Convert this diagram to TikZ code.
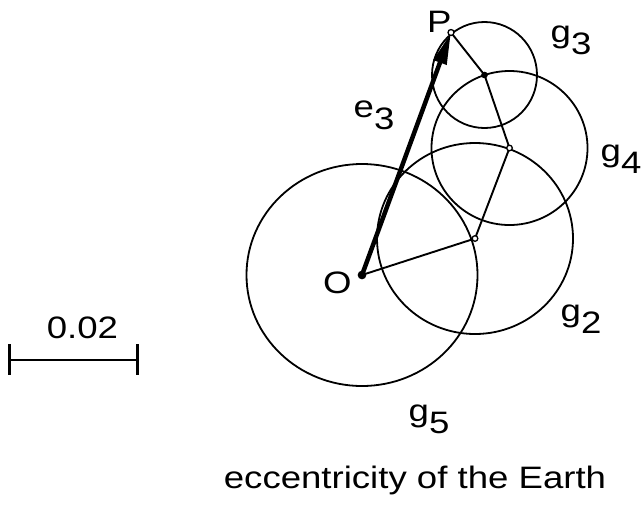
\documentclass[tikz,border=0pt]{standalone}
\usepackage{fontspec}
\setmainfont{Liberation Sans}[FakeStretch=1.18]
\usetikzlibrary{arrows.meta}
\newcommand\lblsub[2]{#1\raisebox{-12pt}{#2}}
\begin{document}
\begin{tikzpicture}[x=1pt,y=-1pt,
  circ/.style={line width=1.8pt},
  link/.style={line width=1.9pt},
  vec/.style={line width=4.5pt,line cap=round,-{Triangle[length=32pt,width=13pt]}},
  lbl/.style={inner sep=0pt,anchor=base west,font=\fontsize{31}{31}\selectfont},
  solid dot/.style={fill=black,draw=black,line width=1pt},
  ring dot/.style={fill=white,draw=black,line width=1.3pt},
  bar/.style={line width=2.5pt},
  tick/.style={line width=3pt}]
\useasboundingbox (0,0) rectangle (642,504);
% points
\coordinate (O) at (362,275);
\coordinate (C) at (475,238.5);
\coordinate (B) at (509.5,148);
\coordinate (A) at (484.5,75);
\coordinate (P) at (451,32.5);
% circles
\draw[circ] (O) ellipse [x radius=115.5, y radius=111];
\draw[circ] (C) ellipse [x radius=98, y radius=95.5];
\draw[circ] (B) ellipse [x radius=78, y radius=77];
\draw[circ] (A) ellipse [x radius=52.5, y radius=53];
% chain
\draw[link] (O) -- (C) -- (B) -- (A) -- (P);
% vector e3
\draw[vec] (O) -- (P);
% dots
\fill[solid dot] (O) circle (3.8);
\draw[solid dot] (A) circle (2.8);
\draw[ring dot] (C) circle (2.8);
\draw[ring dot] (B) circle (2.8);
\draw[ring dot] (P) circle (3);
% labels
\node[lbl] (lP) at (427,32) {P};
\node[lbl] (lO) at (323,293) {O};
\node[lbl] (le3) at (353.5,117) {\lblsub{e}{3}};
\node[lbl] (lg3) at (550.5,42) {\lblsub{g}{3}};
\node[lbl] (lg4) at (600.5,161) {\lblsub{g}{4}};
\node[lbl] (lg2) at (560.5,321) {\lblsub{g}{2}};
\node[lbl] (lg5) at (408.5,421) {\lblsub{g}{5}};
\node[lbl,anchor=base] (title) at (415,488) {eccentricity of the Earth};
% scale bar
\coordinate (s1) at (9.5,360);
\coordinate (s2) at (137,360);
\draw[bar] (s1) -- (s2);
\draw[tick] (s1) ++(0,-16) -- ++(0,31);
\draw[tick] (s2) ++(0,-16) -- ++(0,31);
\node[lbl,anchor=base] (scale) at (82.5,338) {0.02};
\end{tikzpicture}
\end{document}
